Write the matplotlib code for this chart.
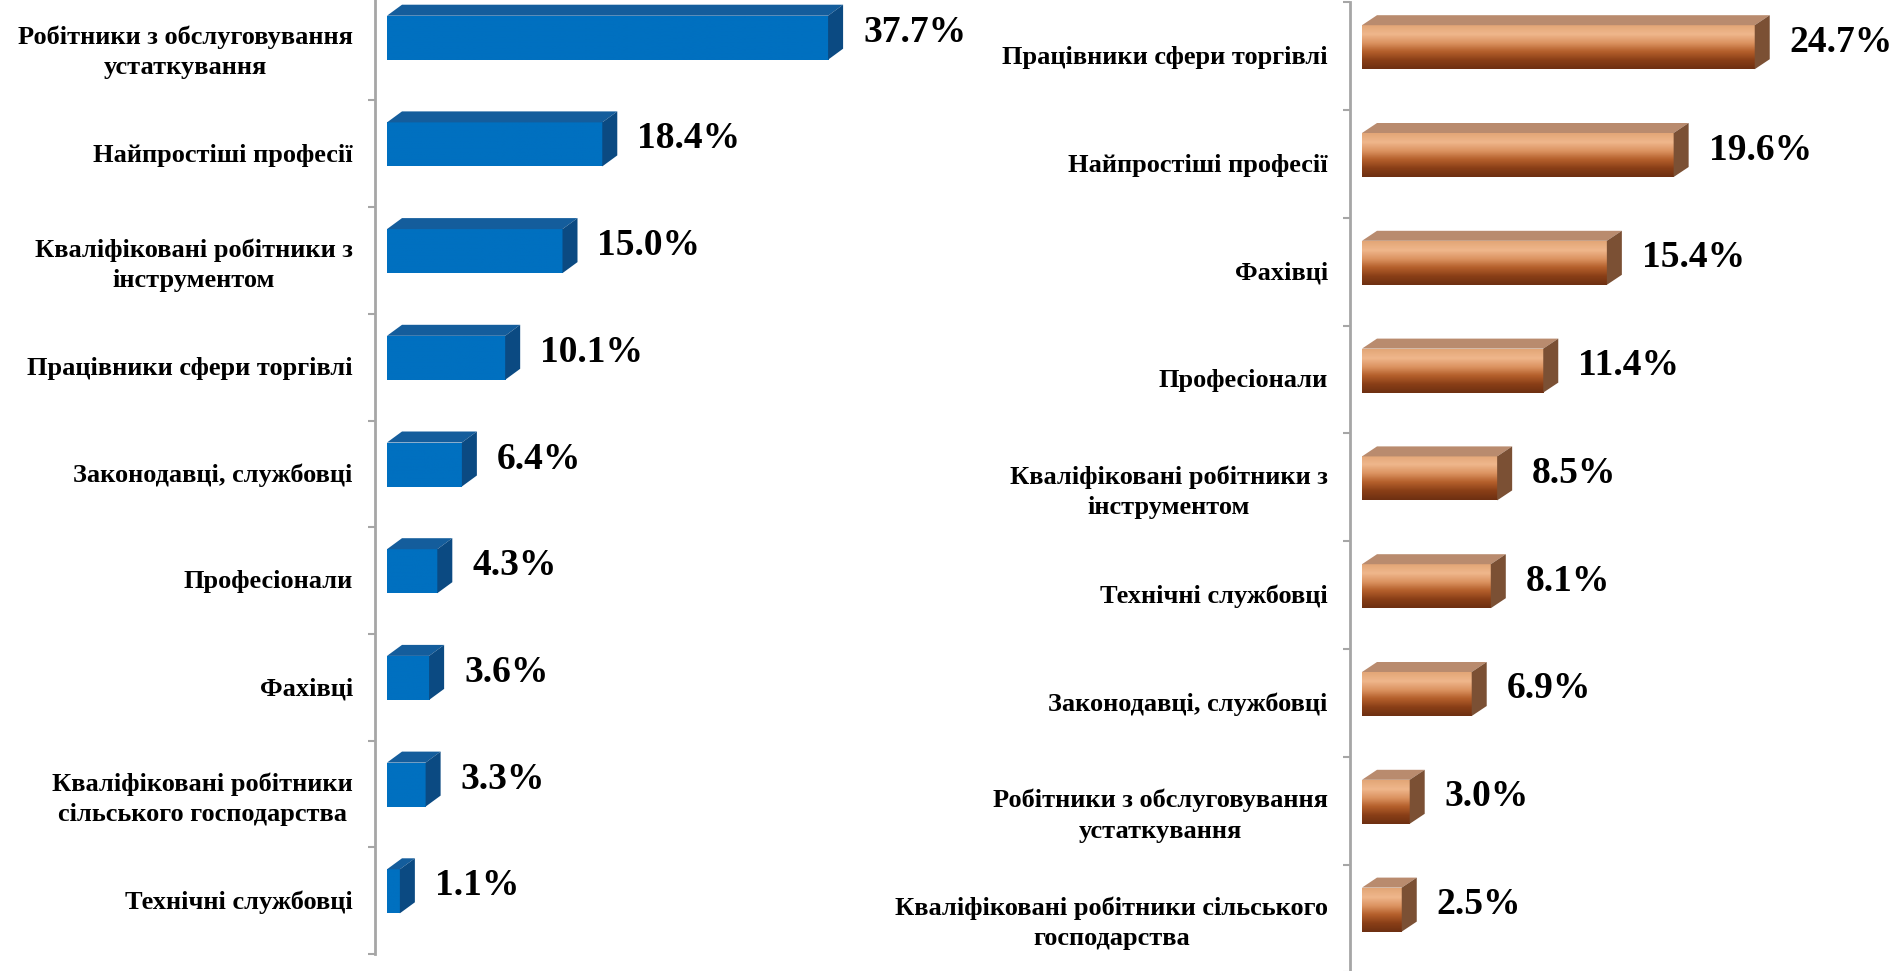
import numpy as np
import matplotlib.pyplot as plt
from matplotlib.patches import Polygon
from matplotlib.colors import LinearSegmentedColormap

plt.rcParams['font.family'] = ['Liberation Serif', 'DejaVu Serif']
plt.rcParams['font.weight'] = 'bold'

# Left panel (blue)
left_labels = ['Робітники з обслуговування\nустаткування',
               'Найпростіші професії',
               'Кваліфіковані робітники з\nінструментом',
               'Працівники сфери торгівлі',
               'Законодавці, службовці',
               'Професіонали',
               'Фахівці',
               'Кваліфіковані робітники\nсільського господарства',
               'Технічні службовці']
left_values = [37.7, 18.4, 15.0, 10.1, 6.4, 4.3, 3.6, 3.3, 1.1]

# Right panel (copper)
right_labels = ['Працівники сфери торгівлі',
                'Найпростіші професії',
                'Фахівці',
                'Професіонали',
                'Кваліфіковані робітники з\nінструментом',
                'Технічні службовці',
                'Законодавці, службовці',
                'Робітники з обслуговування\nустаткування',
                'Кваліфіковані робітники сільського\nгосподарства']
right_values = [24.7, 19.6, 15.4, 11.4, 8.5, 8.1, 6.9, 3.0, 2.5]

W, H = 1891, 971
fig = plt.figure(figsize=(W / 100, H / 100), dpi=100)


def panel(x_px, top_px, labels, values, ppu, cat_px, face_top, face_h,
          dx_px, dy_px, front_cmap, top_col, side_col, xmax):
    n = len(values)
    w = xmax * ppu
    h = n * cat_px
    ax = fig.add_axes([x_px / W, 1 - (top_px + h) / H, w / W, h / H])
    # px -> data units
    off = 12 / ppu
    dx = dx_px / ppu
    dy = dy_px / cat_px
    ft = face_top / cat_px
    fh = face_h / cat_px
    pos = np.arange(n)
    bars = ax.barh(pos + ft + fh / 2, values, height=fh, left=off,
                   color='none', edgecolor='none', zorder=2)
    grad = np.linspace(0, 1, 64).reshape(-1, 1)
    for b, v, p in zip(bars, values, pos):
        yt, yb = p + ft, p + ft + fh
        im = ax.imshow(grad, aspect='auto', cmap=front_cmap,
                       extent=[off, off + v, yb, yt], zorder=2)
        im.set_clip_path(b)
        ax.add_patch(Polygon([(off, yt), (off + v, yt), (off + v + dx, yt - dy),
                              (off + dx, yt - dy)], closed=True,
                             facecolor=top_col, edgecolor='none', zorder=3))
        ax.add_patch(Polygon([(off + v, yt), (off + v + dx, yt - dy),
                              (off + v + dx, yb - dy), (off + v, yb)], closed=True,
                             facecolor=side_col, edgecolor='none', zorder=3))
        ax.text(off + v + dx + 20 / ppu, (yt - dy + yb) / 2, f'{v:.1f}%',
                ha='left', va='center', fontsize=27, fontweight='bold',
                color='black', clip_on=False)
    ax.set_xlim(0, xmax)
    ax.set_ylim(n, 0)
    # boundaries as major ticks, labels on minor ticks
    ax.set_yticks(np.arange(n + 1))
    ax.set_yticklabels([])
    ax.set_yticks(pos + 0.49, minor=True)
    ax.set_yticklabels(labels, minor=True, fontsize=19, fontweight='bold',
                       multialignment='center', linespacing=1.4)
    ax.tick_params(axis='y', which='major', length=5, width=1.5,
                   color='#a6a6a6', direction='out')
    ax.tick_params(axis='y', which='minor', length=0, pad=16)
    ax.set_xticks([])
    for s in ['top', 'right', 'bottom']:
        ax.spines[s].set_visible(False)
    ax.spines['left'].set_color('#a6a6a6')
    ax.spines['left'].set_linewidth(2)
    ax.patch.set_alpha(0)
    return ax


blue = LinearSegmentedColormap.from_list('b', ['#0070c0', '#0070c0'])
copper = LinearSegmentedColormap.from_list(
    'c', ['#e3a677', '#efb78c', '#dc9462', '#b5602c', '#8a3f17', '#6e3012'])

panel(375, -6.3, left_labels, left_values, 11.7, 106.7,
      22, 44, 15, 11, blue, '#145d9c', '#0b4a82', 48)
panel(1350, 2.2, right_labels, right_values, 15.9, 107.8,
      23, 44, 15, 10, copper, '#b98b6e', '#7b5034', 34)

fig.savefig('out.png', dpi=100)
